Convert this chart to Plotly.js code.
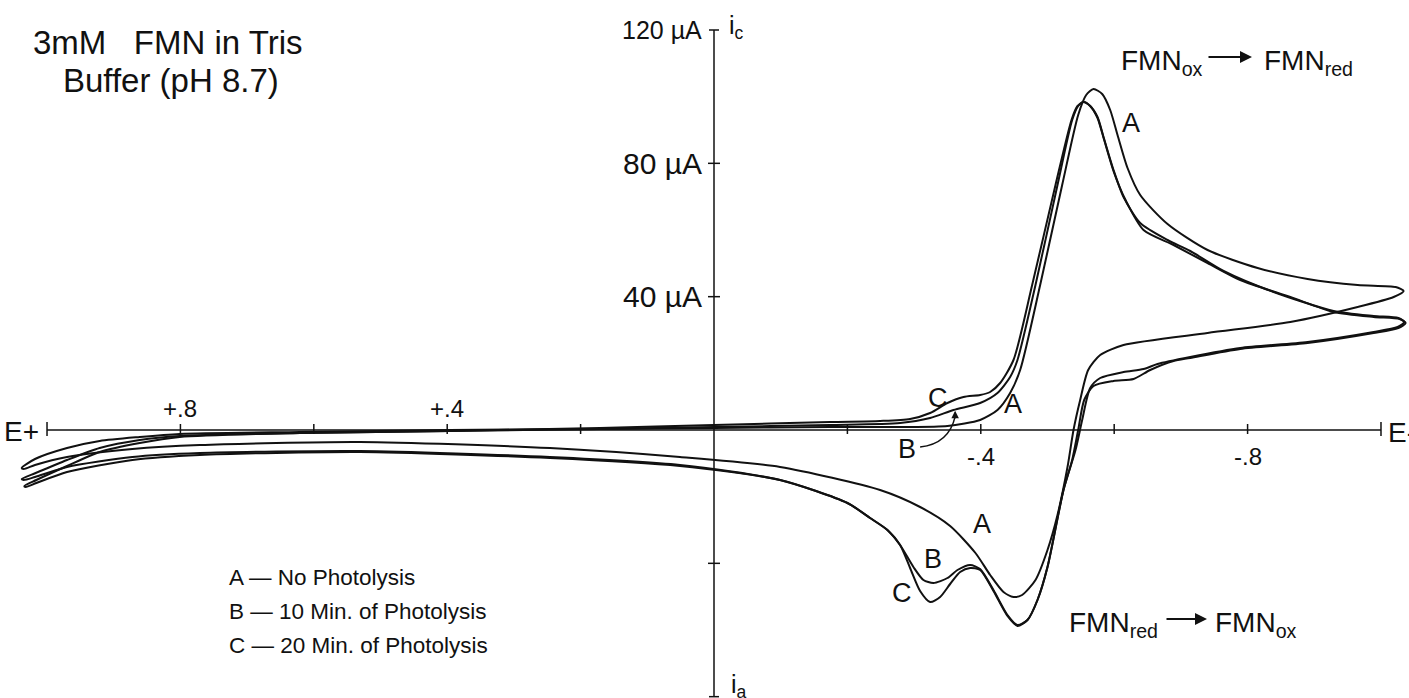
<!DOCTYPE html>
<html>
<head>
<meta charset="utf-8">
<script src="https://cdn.plot.ly/plotly-3.0.1.min.js"></script>
<style>html,body{margin:0;padding:0;background:#fff;}#chart{width:1409px;height:698px;}</style>
</head>
<body>
<div id="chart"></div>
<script>
// ---- Data (E in volts, current in µA; cathodic positive) ----
const curveA_E = [1.038,1.018,0.970,0.921,0.861,0.801,0.621,0.396,0.171,0.000,-0.174,-0.279,-0.350,-0.399,-0.425,-0.444,-0.459,-0.489,-0.522,-0.546,-0.558,-0.569,-0.582,-0.594,-0.605,-0.620,-0.639,-0.680,-0.740,-0.815,-0.890,-0.965,-1.022,-1.034,-1.019,-0.965,-0.864,-0.740,-0.614,-0.579,-0.561,-0.549,-0.539,-0.530,-0.515,-0.500,-0.482,-0.462,-0.449,-0.434,-0.414,-0.392,-0.354,-0.309,-0.249,-0.099,0.051,0.246,0.531,0.771,0.872,0.970,1.018,1.035,1.038];
const curveA_i = [-11.4,-8.7,-5.4,-3.3,-2.1,-1.2,-0.6,0.0,0.3,0.6,0.9,0.9,1.2,3.0,6.0,11.1,18.0,43.5,73.5,94.5,100.5,102.3,100.8,96.0,88.5,78.6,70.5,61.8,54.0,48.6,45.3,43.5,42.9,41.7,39.9,36.9,32.4,29.1,25.5,22.5,18.0,9.0,0.0,-11.1,-25.5,-36.0,-45.0,-49.5,-50.1,-48.6,-43.5,-36.9,-28.8,-23.1,-18.0,-11.1,-8.1,-5.4,-3.6,-4.5,-5.7,-8.1,-10.5,-11.7,-11.4];

const curveB_E = [1.038,1.017,0.970,0.921,0.861,0.801,0.621,0.396,0.171,0.000,-0.174,-0.279,-0.324,-0.359,-0.399,-0.425,-0.444,-0.455,-0.482,-0.515,-0.537,-0.546,-0.554,-0.564,-0.575,-0.584,-0.599,-0.614,-0.639,-0.680,-0.714,-0.764,-0.839,-0.929,-0.989,-1.026,-1.035,-1.025,-0.989,-0.890,-0.789,-0.714,-0.665,-0.644,-0.614,-0.579,-0.564,-0.552,-0.542,-0.524,-0.500,-0.485,-0.470,-0.455,-0.440,-0.419,-0.399,-0.384,-0.365,-0.350,-0.329,-0.314,-0.299,-0.279,-0.260,-0.234,-0.200,-0.099,0.051,0.246,0.531,0.771,0.872,0.970,1.018,1.035,1.038];
const curveB_i = [-14.7,-12.9,-9.0,-5.4,-3.0,-1.8,-0.9,-0.3,0.3,0.9,1.5,2.1,3.6,6.0,8.1,11.1,15.9,21.0,43.5,73.5,93.0,97.2,98.4,97.2,93.9,87.9,78.0,69.9,62.1,57.0,53.7,47.7,41.4,35.7,34.2,33.6,32.4,30.9,29.4,26.4,24.6,21.9,19.8,18.3,17.4,15.6,12.6,3.0,-6.0,-18.0,-41.1,-51.0,-57.0,-58.5,-55.5,-48.0,-41.7,-40.5,-42.0,-44.4,-45.9,-45.0,-41.1,-34.5,-30.0,-26.4,-21.9,-15.0,-10.5,-8.1,-6.3,-6.9,-8.1,-11.1,-14.1,-15.0,-14.7];

const curveC_E = [1.034,1.016,0.970,0.921,0.861,0.801,0.621,0.396,0.171,0.000,-0.174,-0.249,-0.294,-0.324,-0.350,-0.374,-0.399,-0.414,-0.429,-0.449,-0.477,-0.512,-0.536,-0.545,-0.554,-0.564,-0.575,-0.585,-0.600,-0.617,-0.644,-0.689,-0.740,-0.789,-0.864,-0.929,-0.989,-1.028,-1.037,-1.026,-0.989,-0.890,-0.789,-0.714,-0.689,-0.654,-0.629,-0.599,-0.569,-0.555,-0.546,-0.537,-0.524,-0.500,-0.485,-0.470,-0.455,-0.440,-0.419,-0.399,-0.384,-0.369,-0.354,-0.339,-0.324,-0.309,-0.294,-0.279,-0.260,-0.234,-0.200,-0.099,0.051,0.246,0.531,0.771,0.872,0.970,1.016,1.032,1.034];
const curveC_i = [-16.8,-15.0,-10.8,-6.6,-3.9,-2.1,-0.9,-0.3,0.6,1.5,2.4,2.7,3.3,5.1,8.1,9.9,10.5,11.4,14.1,21.0,43.5,73.5,93.0,97.2,98.4,97.2,93.6,87.0,77.1,69.0,60.0,55.5,50.1,45.0,39.9,35.4,33.9,33.3,32.1,30.6,29.1,26.1,24.3,21.6,20.7,18.0,15.3,14.7,13.2,9.0,0.0,-9.0,-18.0,-41.1,-51.0,-57.0,-58.8,-55.8,-48.3,-42.0,-41.4,-42.6,-46.2,-50.1,-51.6,-48.3,-41.4,-34.5,-30.0,-26.4,-21.9,-15.0,-10.8,-8.4,-6.6,-7.5,-9.0,-12.6,-15.9,-17.1,-16.8];

// axis ticks and labels
const xTickVals = [1.0, 0.8, 0.6, 0.4, 0.2, -0.2, -0.4, -0.6, -0.8, -1.0];
const xLabelVals = [0.8, 0.4, -0.4, -0.8];
const xLabelText = ['+.8', '+.4', '-.4', '-.8'];
const yTickVals = [120, 80, 40, -40, -80];
const yLabelVals = [120, 80, 40];
const yLabelText = ['120 µA', '80 µA', '40 µA'];
const legendLines = ['A — No Photolysis', 'B — 10 Min. of Photolysis', 'C — 20 Min. of Photolysis'];

// ---- Chart ----
const W = 1409, H = 698;
const FONT = 'Liberation Sans, Arial, sans-serif';
const INK = '#111';

function curve(E, I) {
  return {x: E, y: I, type: 'scatter', mode: 'lines', hoverinfo: 'skip',
          line: {color: INK, width: 2, shape: 'spline', smoothing: 0.7}};
}
const traces = [curve(curveA_E, curveA_i), curve(curveB_E, curveB_i), curve(curveC_E, curveC_i)];

function txt(text, px, py, size, xanchor) {
  return {text: text, xref: 'paper', yref: 'paper', x: px / W, y: 1 - py / H,
          xanchor: xanchor || 'center', yanchor: 'middle', showarrow: false,
          font: {family: FONT, size: size, color: INK}};
}

const shapes = [];
shapes.push({type: 'line', xref: 'x', yref: 'y', x0: 1.0, x1: -1.0, y0: 0, y1: 0, line: {color: INK, width: 1.5}});
shapes.push({type: 'line', xref: 'x', yref: 'y', x0: 0, x1: 0, y0: -80, y1: 120, line: {color: INK, width: 1.5}});
xTickVals.forEach(v => {
  const big = Math.abs(Math.abs(v) - 1) < 1e-9;
  shapes.push({type: 'line', xref: 'x', yref: 'y', ysizemode: 'pixel', yanchor: 0,
               x0: v, x1: v, y0: big ? -6 : -4, y1: big ? 8 : 6, line: {color: INK, width: 1.5}});
});
yTickVals.forEach(v => {
  const end = Math.abs(v) >= 120 || v === -80;
  shapes.push({type: 'line', xref: 'x', yref: 'y', xsizemode: 'pixel', xanchor: 0,
               y0: v, y1: v, x0: end ? -5 : -6, x1: end ? 5 : 6, line: {color: INK, width: 1.5}});
});
// leader from "B" label to curve B
shapes.push({type: 'path', xref: 'x', yref: 'y',
             path: 'M -0.309,-5.1 Q -0.352,-4.2 -0.3615,4.0', line: {color: INK, width: 1.5}});

const ann = [];
xLabelVals.forEach((v, k) => {
  const above = v > 0;
  ann.push({text: xLabelText[k], xref: 'x', yref: 'y', x: v, y: 0, yshift: above ? 22 : -26,
            xanchor: 'center', yanchor: 'middle', showarrow: false,
            font: {family: FONT, size: 24, color: INK}});
});
yLabelVals.forEach((v, k) => {
  ann.push({text: yLabelText[k], xref: 'x', yref: 'y', x: 0, y: v, xshift: -10,
            xanchor: 'right', yanchor: 'middle', showarrow: false,
            font: {family: FONT, size: v === 120 ? 25 : 30, color: INK}});
});
ann.push(txt('E+', 21, 431, 28));
ann.push(txt('E-', 1386, 432, 28, 'left'));
ann.push(txt('i<sub>c</sub>', 727, 27, 25, 'left'));
ann.push(txt('i<sub>a</sub>', 729, 686, 25, 'left'));

ann.push(txt('3mM\u00a0\u00a0\u00a0FMN in Tris', 31, 43, 33, 'left'));
ann.push(txt('Buffer (pH 8.7)', 61, 80, 33, 'left'));

legendLines.forEach((t, k) => ann.push(txt(t, 227, 577 + 34 * k, 22.5, 'left')));

ann.push(txt('A', 1131, 123, 27));
ann.push(txt('C', 938, 398, 27));
ann.push(txt('A', 1013, 404, 27));
ann.push(txt('B', 907, 449, 27));
ann.push(txt('A', 982, 524, 27));
ann.push(txt('B', 933, 559, 27));
ann.push(txt('C', 902, 593, 27));

// arrow tip on curve B
ann.push({text: '', xref: 'x', yref: 'y', x: -0.3615, y: 5.8, ax: 0, ay: 9,
          showarrow: true, arrowhead: 2, arrowsize: 1, arrowwidth: 1.5, arrowcolor: INK});

// reaction labels
ann.push(txt('FMN<sub>ox</sub>', 1205, 62, 28, 'right'));
ann.push({text: '', xref: 'paper', yref: 'paper', x: 1252 / W, y: 1 - 57 / H, ax: -45, ay: 0,
          showarrow: true, arrowhead: 2, arrowsize: 1.2, arrowwidth: 2, arrowcolor: INK});
ann.push(txt('FMN<sub>red</sub>', 1262, 62, 28, 'left'));

ann.push(txt('FMN<sub>red</sub>', 1160, 624, 28, 'right'));
ann.push({text: '', xref: 'paper', yref: 'paper', x: 1207 / W, y: 1 - 619 / H, ax: -42, ay: 0,
          showarrow: true, arrowhead: 2, arrowsize: 1.2, arrowwidth: 2, arrowcolor: INK});
ann.push(txt('FMN<sub>ox</sub>', 1213, 624, 28, 'left'));

const layout = {
  width: W, height: H, margin: {l: 0, r: 0, t: 0, b: 0},
  paper_bgcolor: '#fff', plot_bgcolor: '#fff', showlegend: false,
  xaxis: {range: [1.0705, -1.0420], visible: false, fixedrange: true},
  yaxis: {range: [-80.4, 129.0], visible: false, fixedrange: true},
  shapes: shapes, annotations: ann
};
Plotly.newPlot('chart', traces, layout, {displayModeBar: false, staticPlot: true});
</script>
</body>
</html>
